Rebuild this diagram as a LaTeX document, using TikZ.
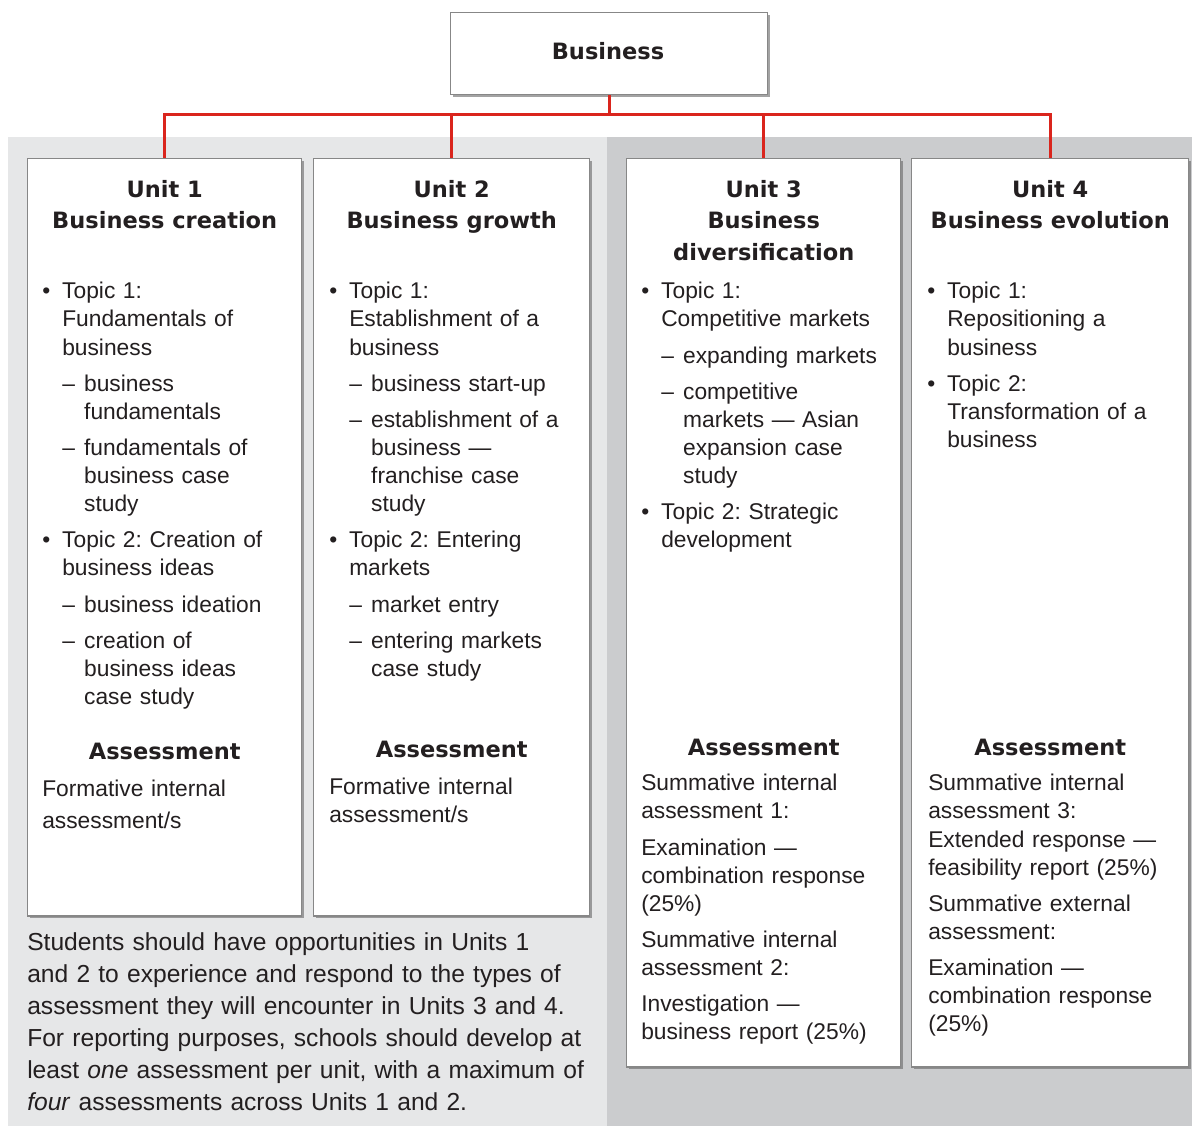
\documentclass[tikz,border=0pt]{standalone}
\usepackage{fontspec}
\setmainfont{Liberation Sans}
\newfontfamily\headfont{DejaVu Sans}
\usepackage{tikz}
\usetikzlibrary{positioning}
\usetikzlibrary{shadows}
\setlength{\parindent}{0pt}
\frenchspacing
\definecolor{panelA}{RGB}{230,231,232}
\definecolor{panelB}{RGB}{203,204,206}
\definecolor{linkred}{RGB}{218,37,29}
\definecolor{boxline}{RGB}{135,135,135}
\definecolor{ink}{RGB}{35,31,32}
\newcommand{\bodyfont}{\fontsize{16.2}{20}\selectfont}
\newcommand{\topicline}[1]{{\let\\\newline\hangindent=14.2pt\hangafter=1\noindent
    \makebox[14.2pt][l]{\textbullet}#1\par}\vspace{5.7pt}}
\newcommand{\subline}[1]{{\let\\\newline\hangindent=29.8pt\hangafter=1\noindent
    \hspace*{14.2pt}\makebox[15.6pt][l]{\textendash}#1\par}\vspace{5.7pt}}
\newcommand{\gap}{\par\vspace{5.7pt}}

\begin{document}
\begin{tikzpicture}[
    x=0.025cm, y=-0.025cm,
    unitbox/.style={draw=boxline, line width=1pt, fill=white, anchor=north west, inner sep=0pt,
        drop shadow={shadow xshift=1.6pt, shadow yshift=-1.6pt, fill=black!60, opacity=.6}},
    head/.style={anchor=north, inner sep=0pt, align=center, text=ink,
        font=\headfont\bfseries\fontsize{16}{22.3}\selectfont},
    body/.style={anchor=north west, inner sep=0pt, text width=185pt, align=left, text=ink, font=\bodyfont},
    link/.style={draw=linkred, line width=2pt}
]
    \useasboundingbox (0,0) rectangle (1192,1126);

    % Background panels
    \fill[panelA] (8,137) rectangle (607,1126);
    \fill[panelB] (607,137) rectangle (1192,1126);

    % Top box and units
    \node[unitbox, minimum width=7.925cm, minimum height=2.05cm] (biz) at (450,12) {};
    \node[head] (bizh) at (608,42) {Business};

    \node[unitbox, minimum width=6.85cm, minimum height=18.925cm] (u1) at (27,158) {};
    \node[unitbox, minimum width=6.9cm, minimum height=18.925cm] (u2) at (313,158) {};
    \node[unitbox, minimum width=6.85cm, minimum height=22.7cm] (u3) at (626,158) {};
    \node[unitbox, minimum width=6.925cm, minimum height=22.7cm] (u4) at (911,158) {};

    % Connectors
    \foreach \u in {u1,u2,u3,u4}
        \draw[link] (biz.south) -- ++(0,19) -| (\u.north);

    % Unit headings
    \node[head] (u1h) at (u1.north |- 0,180) {Unit 1\\Business creation};
    \node[head] (u2h) at (u2.north |- 0,180) {Unit 2\\Business growth};
    \node[head] (u3h) at (u3.north |- 0,180) {Unit 3\\Business\\diversification};
    \node[head] (u4h) at (u4.north |- 0,180) {Unit 4\\Business evolution};

    % Topics
    \node[body] (u1t) at (42,282) {%
        \topicline{Topic 1:\\Fundamentals of\\business}
        \subline{business\\fundamentals}
        \subline{fundamentals of\\business case\\study}
        \topicline{Topic 2: Creation of\\business ideas}
        \subline{business ideation}
        \subline{creation of\\business ideas\\case study}};
    \node[body] (u2t) at (329,282) {%
        \topicline{Topic 1:\\Establishment of a\\business}
        \subline{business start-up}
        \subline{establishment of a\\business \textemdash\\franchise case\\study}
        \topicline{Topic 2: Entering\\markets}
        \subline{market entry}
        \subline{entering markets\\case study}};
    \node[body] (u3t) at (641,282) {%
        \topicline{Topic 1:\\Competitive markets}
        \subline{expanding markets}
        \subline{competitive\\markets \textemdash\ Asian\\expansion case\\study}
        \topicline{Topic 2: Strategic\\development}};
    \node[body] (u4t) at (927,282) {%
        \topicline{Topic 1:\\Repositioning a\\business}
        \topicline{Topic 2:\\Transformation of a\\business}};

    % Assessment
    \node[head] (u1ah) at (u1.north |- 0,743) {Assessment};
    \node[head] (u2ah) at (u2.north |- 0,741) {Assessment};
    \node[head] (u3ah) at (u3.north |- 0,739) {Assessment};
    \node[head] (u4ah) at (u4.north |- 0,739) {Assessment};

    \node[body] (u1ab) at (42,780) {Formative internal\\[2.5pt]assessment/s};
    \node[body] (u2ab) at (329,778) {Formative internal\\assessment/s};
    \node[body] (u3ab) at (641,774) {%
        Summative internal\\assessment 1:\gap
        Examination \textemdash\\combination response\\(25\%)\gap
        Summative internal\\assessment 2:\gap
        Investigation \textemdash\\business report (25\%)};
    \node[body] (u4ab) at (928,774) {%
        Summative internal\\assessment 3:\\Extended response \textemdash\\feasibility report (25\%)\gap
        Summative external\\assessment:\gap
        Examination \textemdash\\combination response\\(25\%)};

    % Note under units 1 and 2
    \node[body, text width=420pt, font=\fontsize{17.5}{22.8}\selectfont] (note) at (27,932) {%
        Students should have opportunities in Units 1\\
        and 2 to experience and respond to the types of\\
        assessment they will encounter in Units 3 and 4.\\
        For reporting purposes, schools should develop at\\
        least \textit{one} assessment per unit, with a maximum of\\
        \textit{four} assessments across Units 1 and 2.};
\end{tikzpicture}
\end{document}
